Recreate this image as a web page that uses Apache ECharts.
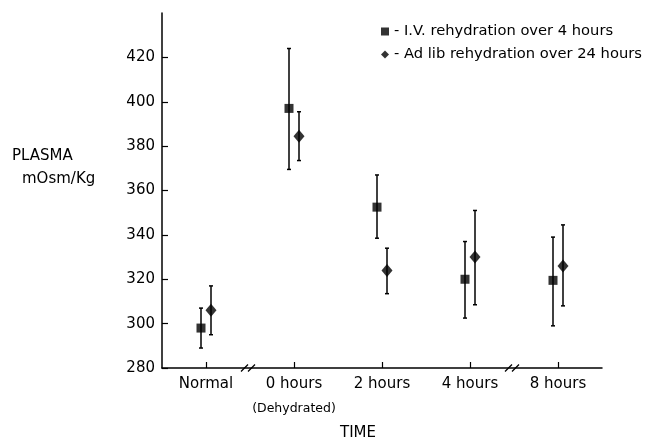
<!DOCTYPE html>
<html>
<head>
<meta charset="utf-8">
<script src="https://cdn.jsdelivr.net/npm/echarts@6/dist/echarts.min.js"></script>
<style>
  html, body { margin: 0; padding: 0; background: #fff; }
  #container { width: 647px; height: 441px; }
</style>
</head>
<body>
<div id="container"></div>
<script>
const categories = ["Normal", "0 hours", "2 hours", "4 hours", "8 hours"];
const yTicks = [280, 300, 320, 340, 360, 380, 400, 420];

// I.V. rehydration over 4 hours (squares)
const ivMean = [298, 397, 352.5, 320, 319.5];
const ivHigh = [307, 424, 367, 337, 339];
const ivLow = [289, 369.5, 338.5, 302.5, 299];

// Ad lib rehydration over 24 hours (diamonds)
const adMean = [306, 384.5, 324, 330, 326];
const adHigh = [317, 395.5, 334, 351, 344.5];
const adLow = [295, 373.5, 313.5, 308.5, 308];

const ivName = "- I.V. rehydration over 4 hours";
const adName = "- Ad lib rehydration over 24 hours";
const font = "DejaVu Sans";

const errorData = (low, high) => low.map((l, i) => [i, l, high[i]]);

const errorBars = (dx) => (params, api) => {
  const lo = api.coord([api.value(0), api.value(1)]);
  const hi = api.coord([api.value(0), api.value(2)]);
  const x = lo[0] + dx;
  const cap = 2;
  const style = { stroke: "#000", lineWidth: 1.5 };
  return {
    type: "group",
    children: [
      { type: "line", shape: { x1: x, y1: lo[1], x2: x, y2: hi[1] }, style },
      { type: "line", shape: { x1: x - cap, y1: lo[1], x2: x + cap, y2: lo[1] }, style },
      { type: "line", shape: { x1: x - cap, y1: hi[1], x2: x + cap, y2: hi[1] }, style },
    ],
  };
};

const dom = document.getElementById("container");
const myChart = echarts.init(dom, null, { renderer: "canvas" });

const option = {
  animation: false,
  backgroundColor: "#FFFFFF",
  textStyle: { fontFamily: font, color: "#000" },
  grid: { left: 162, right: 45, top: 13, bottom: 73, containLabel: false, outerBoundsMode: "none" },
  legend: {
    orient: "vertical",
    left: 376,
    top: 19,
    itemWidth: 8,
    itemHeight: 8,
    itemGap: 8,
    textStyle: { fontSize: 14.7, color: "#000", fontFamily: font },
    data: [
      { name: ivName, icon: "rect" },
      { name: adName, icon: "diamond" },
    ],
  },
  xAxis: {
    type: "category",
    data: categories,
    boundaryGap: true,
    axisLine: { lineStyle: { color: "#000", width: 1.5 } },
    axisTick: { show: true, inside: true, length: 6, interval: 0, alignWithLabel: true, lineStyle: { color: "#000", width: 1.2 } },
    axisLabel: {
      interval: 0,
      margin: 9,
      fontSize: 15,
      color: "#000",
      formatter: (v) => (v === "0 hours" ? v + "\n{s|(Dehydrated)}" : v),
      rich: { s: { fontSize: 12.5, padding: [10, 0, 0, 0], fontFamily: font } },
    },
    name: "TIME",
    nameLocation: "middle",
    nameGap: 58,
    nameTextStyle: { fontSize: 15, color: "#000", padding: [0, 48, 0, 0] },
  },
  yAxis: {
    type: "value",
    min: 280,
    max: 440,
    interval: 20,
    splitLine: { show: false },
    axisLine: { show: true, lineStyle: { color: "#000", width: 1.5 } },
    axisTick: { show: true, inside: true, length: 6, customValues: yTicks, lineStyle: { color: "#000", width: 1.2 } },
    axisLabel: { margin: 7, fontSize: 15, color: "#000", customValues: yTicks },
  },
  graphic: [
    {
      type: "text",
      left: 12,
      top: 149,
      style: { text: "PLASMA", font: "15px " + font, fill: "#000" },
    },
    {
      type: "text",
      left: 22,
      top: 172,
      style: { text: "mOsm/Kg", font: "15px " + font, fill: "#000" },
    },
  ],
  series: [
    {
      name: "ivErr",
      type: "custom",
      renderItem: errorBars(-5),
      data: errorData(ivLow, ivHigh),
      z: 2,
    },
    {
      name: "adErr",
      type: "custom",
      renderItem: errorBars(5),
      data: errorData(adLow, adHigh),
      z: 2,
    },
    {
      name: ivName,
      type: "scatter",
      symbol: "rect",
      symbolSize: 9,
      symbolOffset: [-5, 0],
      itemStyle: { color: "#000" },
      data: ivMean,
      z: 3,
    },
    {
      name: adName,
      type: "scatter",
      symbol: "diamond",
      symbolSize: [11, 13],
      symbolOffset: [5, 0],
      itemStyle: { color: "#000" },
      data: adMean,
      z: 3,
    },
  ],
};

myChart.setOption(option);

// axis break marks "//" between category boundaries
const breakMark = (i) => {
  const a = myChart.convertToPixel({ xAxisIndex: 0 }, i);
  const b = myChart.convertToPixel({ xAxisIndex: 0 }, i + 1);
  const y = myChart.convertToPixel({ yAxisIndex: 0 }, 280);
  const mx = (a + b) / 2;
  const style = { stroke: "#000", lineWidth: 1.3 };
  return {
    type: "group",
    z: 10,
    children: [
      { type: "rect", shape: { x: mx - 7, y: y - 2, width: 13, height: 4 }, style: { fill: "#fff" } },
      { type: "line", shape: { x1: mx - 9, y1: y + 3.5, x2: mx - 2, y2: y - 3.5 }, style },
      { type: "line", shape: { x1: mx - 2, y1: y + 3.5, x2: mx + 5, y2: y - 3.5 }, style },
    ],
  };
};

myChart.setOption({
  graphic: option.graphic.concat([breakMark(0), breakMark(3)]),
});
</script>
</body>
</html>
